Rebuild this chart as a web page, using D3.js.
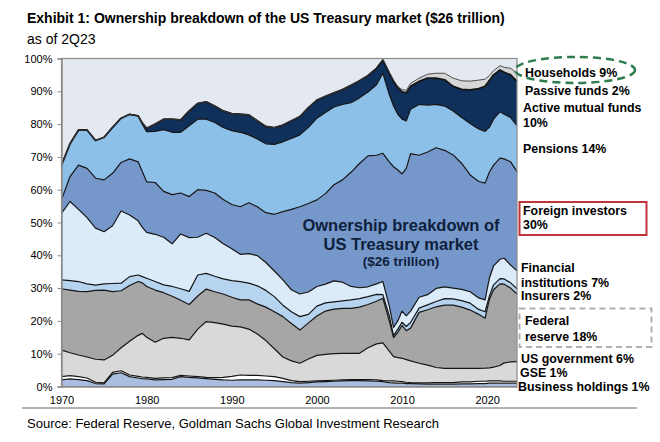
<!DOCTYPE html>
<html>
<head>
<meta charset="utf-8">
<script src="https://cdn.jsdelivr.net/npm/d3@7"></script>
<style>
  html, body { margin: 0; padding: 0; background: #ffffff; }
  svg { display: block; font-family: "Liberation Sans", Arial, sans-serif; }
</style>
</head>
<body>
<svg id="chart" width="660" height="442"></svg>
<script>
// ---------------- DATA (shares of US Treasury market, %) ----------------
const years = [
  1970, 1971, 1972, 1973, 1974, 1975, 1976, 1977, 1978, 1979,
  1979.5, 1980, 1981, 1982, 1983, 1984, 1985, 1986, 1987, 1988,
  1989, 1990, 1991, 1992, 1993, 1994, 1995, 1996, 1997, 1998,
  1999, 2000, 2001, 2002, 2003, 2004, 2005, 2006, 2007, 2007.75,
  2008.5, 2009, 2009.5, 2010, 2010.5, 2011, 2012, 2013, 2014, 2015,
  2016, 2017, 2018, 2019, 2019.75, 2020.25, 2020.75, 2021.5, 2022, 2022.75,
  2023.5
];
const business = [
  2.0, 2.3, 2.1, 1.8, 0.9, 0.8, 3.8, 4.2, 3.0, 2.6,
  2.4, 2.3, 2.0, 2.1, 2.2, 3.0, 2.8, 2.6, 2.4, 2.2,
  2.0, 1.9, 2.0, 2.0, 2.0, 1.9, 1.8, 1.5, 1.2, 1.0,
  1.2, 1.4, 1.5, 1.6, 1.7, 1.8, 1.8, 1.7, 1.6, 1.5,
  1.2, 1.1, 1.0, 1.0, 0.9, 0.9, 0.8, 0.7, 0.7, 0.7,
  0.7, 0.8, 0.8, 0.9, 0.9, 1.0, 1.0, 1.0, 1.0, 1.0,
  1.0
];
const gse = [
  1.0, 1.0, 0.9, 0.8, 0.4, 0.3, 0.5, 0.6, 0.5, 0.5,
  0.5, 0.5, 0.5, 0.5, 0.5, 0.4, 0.4, 0.4, 0.4, 0.5,
  0.8, 1.2, 1.5, 1.4, 1.4, 1.3, 1.2, 1.0, 0.6, 0.5,
  0.4, 0.3, 0.3, 0.3, 0.3, 0.3, 0.3, 0.4, 0.4, 0.3,
  0.5, 0.6, 0.6, 0.5, 0.4, 0.3, 0.3, 0.4, 0.5, 0.5,
  0.5, 0.6, 0.6, 0.7, 0.7, 0.7, 0.7, 0.7, 0.6, 0.6,
  0.6
];
const usGovernment = [
  8.1, 7.0, 6.6, 6.4, 7.0, 7.0, 5.2, 7.0, 10.3, 12.5,
  13.3, 12.2, 11.0, 12.1, 12.3, 11.3, 11.0, 14.5, 17.0, 16.8,
  16.2, 15.3, 14.7, 14.1, 12.6, 10.8, 8.5, 6.5, 6.0, 5.6,
  6.8, 7.8, 8.0, 8.1, 8.1, 8.0, 8.0, 9.7, 11.0, 11.5,
  9.1, 7.4, 7.2, 7.1, 6.9, 6.6, 6.0, 5.4, 4.6, 4.3,
  4.3, 4.1, 4.1, 3.9, 4.0, 4.0, 4.2, 4.7, 5.6, 5.9,
  6.0
];
const federalReserve = [
  18.7, 19.1, 19.4, 19.9, 21.0, 21.3, 19.4, 17.4, 17.0, 16.4,
  15.4, 15.5, 15.9, 13.9, 12.5, 11.6, 10.8, 10.1, 9.9, 9.4,
  9.2, 8.8, 8.2, 8.9, 9.2, 10.2, 11.3, 12.3, 11.4, 10.1,
  11.0, 12.0, 13.2, 13.6, 13.7, 13.7, 14.1, 13.2, 13.0, 13.6,
  9.2, 5.8, 7.7, 10.0, 8.8, 10.0, 15.5, 16.9, 18.5, 19.3,
  19.3, 18.7, 17.8, 16.5, 15.2, 20.8, 23.6, 24.9, 24.0, 22.5,
  20.6
];
const insurers = [
  2.7, 2.9, 3.0, 2.4, 1.6, 1.9, 2.5, 2.3, 2.7, 2.0,
  1.9, 2.5, 2.6, 2.4, 3.0, 3.5, 4.0, 6.4, 4.8, 4.7,
  4.6, 5.1, 5.6, 5.1, 5.5, 5.1, 4.6, 3.5, 3.6, 4.1,
  2.6, 3.0, 2.5, 2.2, 2.3, 2.6, 2.6, 2.4, 2.1, 1.1,
  1.5, 0.6, 1.0, 1.0, 1.3, 1.7, 1.3, 1.5, 1.6, 2.0,
  1.9, 2.0, 2.1, 1.5, 2.0, 1.0, 1.5, 1.6, 1.6, 1.6,
  1.6
];
const financialInstitutions = [
  20.3, 24.1, 22.0, 20.2, 17.4, 15.9, 17.6, 22.0, 18.8, 16.5,
  15.0, 14.0, 14.4, 14.5, 13.0, 16.7, 16.4, 11.5, 12.2, 11.8,
  10.7, 9.7, 8.3, 9.0, 9.2, 8.5, 7.8, 7.7, 6.7, 6.9,
  6.8, 6.0, 5.7, 6.4, 5.7, 4.1, 3.3, 3.0, 3.2, 4.0,
  3.0, 2.5, 2.5, 3.4, 3.2, 3.5, 3.3, 3.1, 4.0, 3.6,
  3.3, 3.4, 3.5, 3.5, 3.6, 5.5, 5.8, 5.9, 6.3, 5.4,
  5.5
];
const foreignInvestors = [
  4.1, 7.6, 13.5, 15.0, 15.2, 15.8, 16.0, 14.8, 17.1, 18.0,
  17.0, 15.4, 15.8, 14.0, 15.0, 12.5, 12.5, 14.5, 13.1, 13.6,
  13.5, 13.5, 14.5, 15.5, 14.9, 15.2, 17.3, 20.8, 24.5, 26.6,
  27.0, 26.4, 27.6, 29.3, 31.2, 34.8, 37.9, 39.9, 39.2, 39.1,
  44.0, 49.0, 46.0, 41.8, 45.0, 48.0, 43.3, 43.5, 42.9, 41.6,
  40.6, 38.4, 35.6, 35.5, 35.6, 32.3, 30.7, 30.8, 30.3, 31.5,
  30.2
];
const pensions = [
  10.6, 10.0, 10.7, 11.7, 11.5, 13.0, 14.0, 13.5, 13.6, 14.0,
  14.5, 15.3, 15.6, 18.8, 19.0, 18.5, 21.6, 21.5, 21.7, 21.5,
  22.0, 22.5, 22.7, 20.7, 20.7, 21.0, 21.3, 21.3, 21.6, 21.9,
  23.2, 24.9, 24.7, 23.7, 23.0, 21.2, 20.0, 19.5, 21.5, 24.4,
  20.5, 18.5, 17.0, 16.7, 14.5, 13.5, 15.5, 14.3, 13.2, 13.5,
  13.4, 14.0, 15.7, 16.0, 15.8, 13.7, 14.0, 14.2, 13.6, 13.5,
  14.0
];
const activeMutualFunds = [
  0, 0, 0, 0, 0, 0, 0, 0, 0, 0,
  0.3, 1.0, 2.2, 3.2, 4.0, 3.8, 4.5, 4.8, 5.3, 5.0,
  5.0, 5.2, 5.5, 6.1, 5.5, 5.3, 5.1, 5.1, 5.4, 5.6,
  6.0, 5.5, 5.0, 4.3, 4.5, 5.3, 5.2, 5.0, 5.0, 4.0,
  6.5, 7.5, 8.0, 8.3, 8.5, 7.0, 7.0, 8.2, 8.0, 8.0,
  7.5, 8.6, 10.2, 12.3, 13.7, 14.3, 13.5, 12.7, 12.8, 13.0,
  13.5
];
const passiveFunds = [
  0, 0, 0, 0, 0, 0, 0, 0, 0, 0,
  0, 0, 0, 0, 0, 0, 0, 0, 0, 0,
  0, 0, 0, 0, 0, 0, 0, 0, 0, 0,
  0, 0, 0, 0, 0, 0, 0, 0, 0.2, 0.2,
  0.3, 0.4, 0.5, 0.7, 0.8, 0.9, 1.0, 1.2, 1.5, 2.0,
  2.5, 2.6, 2.7, 2.6, 2.2, 1.5, 1.3, 1.3, 1.5, 2.0,
  2.5
];
const households = [
  32.5, 26.0, 21.8, 21.8, 25.0, 24.0, 21.0, 18.2, 17.0, 17.5,
  19.7, 21.3, 20.0, 18.5, 18.5, 18.7, 16.0, 13.7, 13.2, 14.5,
  16.0, 16.8, 17.0, 17.2, 19.0, 20.7, 21.1, 20.3, 19.0, 17.7,
  15.0, 12.7, 11.5, 10.5, 9.5, 8.2, 6.8, 5.2, 2.8, 0.3,
  4.2, 6.6, 8.5, 9.5, 9.7, 7.6, 6.0, 4.8, 4.5, 4.5,
  6.0, 6.8, 6.9, 6.6, 6.3, 5.2, 3.7, 2.2, 2.7, 3.0,
  4.5
];

const seriesKeys = ["business", "gse", "usGovernment", "federalReserve", "insurers",
  "financialInstitutions", "foreignInvestors", "pensions", "activeMutualFunds",
  "passiveFunds", "households"];
const seriesValues = { business, gse, usGovernment, federalReserve, insurers,
  financialInstitutions, foreignInvestors, pensions, activeMutualFunds, passiveFunds, households };

const xTicks = [1970, 1980, 1990, 2000, 2010, 2020];
const yTicks = [0, 10, 20, 30, 40, 50, 60, 70, 80, 90, 100];

const title = "Exhibit 1: Ownership breakdown of the US Treasury market ($26 trillion)";
const subtitle = "as of 2Q23";
const source = "Source: Federal Reserve, Goldman Sachs Global Investment Research";
const centerLabel = ["Ownership breakdown of", "US Treasury market", "($26 trillion)"];
const rightLabels = [
  { text: "Households 9%", y: 77, x: 525 },
  { text: "Passive funds 2%", y: 95, x: 525 },
  { text: "Active mutual funds", y: 112, x: 523 },
  { text: "10%", y: 127, x: 523 },
  { text: "Pensions 14%", y: 153, x: 523 },
  { text: "Foreign investors", y: 215, x: 523 },
  { text: "30%", y: 229, x: 523 },
  { text: "Financial", y: 272, x: 521 },
  { text: "institutions 7%", y: 287, x: 521 },
  { text: "Insurers 2%", y: 300, x: 521 },
  { text: "Federal", y: 325, x: 525 },
  { text: "reserve 18%", y: 341, x: 525 },
  { text: "US government 6%", y: 363, x: 521 },
  { text: "GSE 1%", y: 377, x: 520 },
  { text: "Business holdings 1%", y: 391, x: 518 }
];

// ---------------- STYLES ----------------
const colors = {
  business: "#a9bee1",
  gse: "#ffffff",
  usGovernment: "#d9d9d9",
  federalReserve: "#a6a6a6",
  insurers: "#b6d4f0",
  financialInstitutions: "#dbebfa",
  foreignInvestors: "#7697c9",
  pensions: "#8dc0e8",
  activeMutualFunds: "#10305c",
  passiveFunds: "#d6d6d6",
  households: "#e4e8f1"
};

// ---------------- CHART ----------------
const svg = d3.select("#chart");
const m = { left: 61.5, right: 517, top: 58.5, bottom: 386.5 };

const x = d3.scaleLinear().domain([1970, 2023.5]).range([m.left, m.right]);
const y = d3.scaleLinear().domain([0, 100]).range([m.bottom, m.top]);

const rows = years.map((yr, i) => {
  const r = { year: yr };
  seriesKeys.forEach(k => r[k] = seriesValues[k][i]);
  return r;
});
const stacked = d3.stack().keys(seriesKeys)(rows);

const area = d3.area()
  .x(d => x(d.data.year))
  .y0(d => y(d[0]))
  .y1(d => y(Math.min(100, d[1])));

const plot = svg.append("g");
plot.selectAll("path.layer")
  .data(stacked)
  .join("path")
  .attr("class", "layer")
  .attr("d", area)
  .attr("fill", d => colors[d.key]);

const topLine = d3.line()
  .x(d => x(d.data.year))
  .y(d => y(Math.min(100, d[1])));

plot.selectAll("path.edge")
  .data(stacked.filter(s => s.key !== "households"))
  .join("path")
  .attr("class", "edge")
  .attr("d", topLine)
  .attr("fill", "none")
  .attr("stroke", d => d.key === "passiveFunds" ? "#3a3a3a" : "#151515")
  .attr("stroke-width", d => d.key === "activeMutualFunds" ? 1.8 : (d.key === "passiveFunds" ? 0.9 : 1.2))
  .attr("stroke-linejoin", "round");

// frame
svg.append("rect")
  .attr("x", m.left).attr("y", m.top)
  .attr("width", m.right - m.left).attr("height", m.bottom - m.top)
  .attr("fill", "none").attr("stroke", "#8c8c8c").attr("stroke-width", 1.2);

// y axis
const yAxis = svg.append("g")
  .attr("transform", `translate(${m.left},0)`)
  .call(d3.axisLeft(y).tickValues(yTicks).tickFormat(d => d + "%").tickSize(4).tickPadding(5));
yAxis.select(".domain").attr("stroke", "#8c8c8c").attr("stroke-width", 1.5);
yAxis.selectAll(".tick line").attr("stroke", "#8c8c8c");
yAxis.selectAll("text").attr("font-size", 11).attr("fill", "#000")
  .attr("font-family", "'Liberation Sans', Arial, sans-serif");

// x axis
const xAxis = svg.append("g")
  .attr("transform", `translate(0,${m.bottom})`)
  .call(d3.axisBottom(x).tickValues(xTicks).tickFormat(d3.format("d")).tickSize(0).tickPadding(10));
xAxis.select(".domain").attr("stroke", "#8c8c8c").attr("stroke-width", 1.5);
xAxis.selectAll("text").attr("font-size", 11).attr("fill", "#000")
  .attr("font-family", "'Liberation Sans', Arial, sans-serif");

// titles
svg.append("text").attr("x", 27).attr("y", 22.5)
  .attr("font-size", 14).attr("font-weight", "bold").attr("fill", "#000").text(title);
svg.append("text").attr("x", 27).attr("y", 44)
  .attr("font-size", 14).attr("fill", "#000").text(subtitle);

// center label
const cl = svg.append("g").attr("fill", "#0e1f3d").attr("font-weight", "bold").attr("text-anchor", "middle");
cl.append("text").attr("x", 401).attr("y", 231).attr("font-size", 16.5).text(centerLabel[0]);
cl.append("text").attr("x", 401).attr("y", 249.5).attr("font-size", 16.5).text(centerLabel[1]);
cl.append("text").attr("x", 401).attr("y", 265.5).attr("font-size", 13.5).text(centerLabel[2]);

// right labels
svg.append("g").selectAll("text")
  .data(rightLabels)
  .join("text")
  .attr("x", d => d.x).attr("y", d => d.y)
  .attr("font-size", 12.4).attr("font-weight", "bold").attr("fill", "#000")
  .text(d => d.text);

// annotation shapes
svg.append("ellipse")
  .attr("cx", 575).attr("cy", 70).attr("rx", 60).attr("ry", 13)
  .attr("fill", "none").attr("stroke", "#2f7d4f").attr("stroke-width", 2.5)
  .attr("stroke-dasharray", "8,5");
svg.append("rect")
  .attr("x", 519.5).attr("y", 202).attr("width", 127).attr("height", 33)
  .attr("fill", "none").attr("stroke", "#c0343c").attr("stroke-width", 2);
svg.append("rect")
  .attr("x", 519.5).attr("y", 308.5).attr("width", 132).attr("height", 38.5)
  .attr("fill", "none").attr("stroke", "#b0b0b0").attr("stroke-width", 2)
  .attr("stroke-dasharray", "6,4");

// bottom rule and source
svg.append("line").attr("x1", 22).attr("x2", 637).attr("y1", 408).attr("y2", 408)
  .attr("stroke", "#9a9a9a").attr("stroke-width", 1.5);
svg.append("text").attr("x", 27).attr("y", 428)
  .attr("font-size", 13).attr("fill", "#000").text(source);
</script>
</body>
</html>
